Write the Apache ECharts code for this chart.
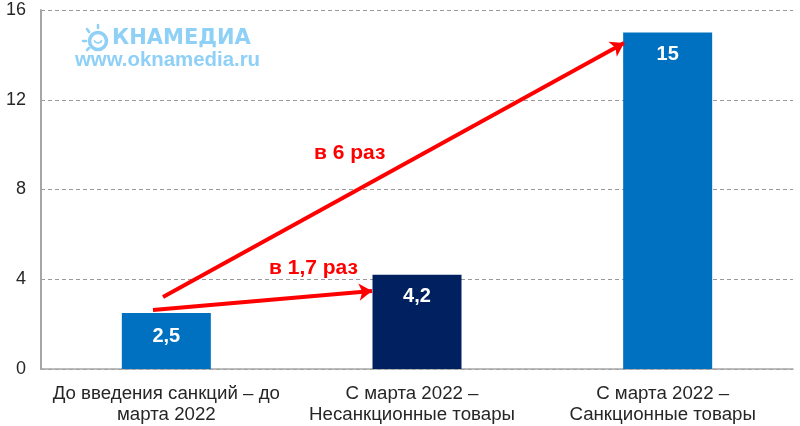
<!DOCTYPE html>
<html lang="ru">
<head>
<meta charset="UTF-8">
<title>Санкции</title>
<style>
html,body{margin:0;padding:0;background:#fff;}
#chart{width:800px;height:426px;}
</style>
<script src="https://cdn.jsdelivr.net/npm/echarts@6/dist/echarts.min.js"></script>
</head>
<body>
<div id="chart"></div>
<script>
var categories = ['До введения санкций – до\nмарта 2022', 'С марта 2022 –\nНесанкционные товары', 'С марта 2022 –\nСанкционные товары'];
var values = [2.5, 4.2, 15];
var ratioLabels = ['в 1,7 раз', 'в 6 раз'];
var font = '"Liberation Sans", Arial, sans-serif';
var logoColor = '#8ed0f6';

var chart = echarts.init(document.getElementById('chart'), null, {renderer: 'canvas'});

function ray(x1, y1, x2, y2) {
  return {
    type: 'line',
    shape: {x1: x1, y1: y1, x2: x2, y2: y2},
    style: {stroke: logoColor, lineWidth: 2.5, lineCap: 'round'},
    silent: true
  };
}

function arrow(x1, y1, x2, y2) {
  return [{x: x1, y: y1}, {x: x2, y: y2}];
}

chart.setOption({
  animation: false,
  backgroundColor: '#fff',
  textStyle: {fontFamily: font},
  grid: {left: 41, right: 7, top: 10, bottom: 57},
  xAxis: {
    type: 'category',
    data: categories,
    axisLine: {lineStyle: {color: '#a6a6a6', width: 1.5}},
    axisTick: {show: false},
    axisLabel: {
      color: '#262626', fontSize: 18.7, lineHeight: 21, margin: 14, fontFamily: font, interval: 0,
      // the 2nd and 3rd captions sit a little left of their bars
      formatter: function (v, i) {
        if (!i) return v;
        return v.split('\n').map(function (l) { return '{s|' + l + '}'; }).join('\n');
      },
      rich: {s: {color: '#262626', fontSize: 18.7, lineHeight: 21, fontFamily: font, padding: [0, 10, 0, 0]}}
    }
  },
  yAxis: {
    type: 'value',
    min: 0,
    max: 16,
    interval: 4,
    axisLine: {show: true, lineStyle: {color: '#a6a6a6', width: 2}},
    axisTick: {show: false},
    axisLabel: {color: '#262626', fontSize: 18, margin: 15, padding: [4, 0, 0, 0], fontFamily: font},
    splitLine: {lineStyle: {color: '#9a9a9a', type: [4, 3], width: 1}}
  },
  series: [{
    type: 'bar',
    barWidth: 89,
    data: values.map(function (v, i) {
      return {
        value: v,
        itemStyle: {color: i === 1 ? '#002060' : '#0070c0'},
        label: {distance: i === 0 ? 14 : 12}
      };
    }),
    label: {
      show: true,
      position: 'insideTop',
      color: '#fff',
      fontSize: 20,
      fontWeight: 'bold',
      fontFamily: font,
      formatter: function (p) { return String(p.value).replace('.', ','); }
    },
    markLine: {
      silent: true,
      animation: false,
      symbol: ['none', 'arrow'],
      symbolSize: 13,
      label: {show: false},
      lineStyle: {color: '#ff0000', width: 4, type: 'solid'},
      data: [arrow(153, 310, 372, 291), arrow(163, 297, 624, 43)]
    }
  }],
  graphic: [
    {type: 'text', x: 269, y: 258, silent: true, z: 20,
      style: {text: ratioLabels[0], fill: '#ff0000', font: 'bold 21px ' + font}},
    {type: 'text', x: 314, y: 143, silent: true, z: 20,
      style: {text: ratioLabels[1], fill: '#ff0000', font: 'bold 21px ' + font}},
    {type: 'circle', shape: {cx: 98, cy: 41, r: 8.5}, silent: true,
      style: {fill: 'none', stroke: logoColor, lineWidth: 3.5}},
    {type: 'arc', shape: {cx: 98, cy: 39, r: 4, startAngle: 0.3, endAngle: 2.84}, silent: true,
      style: {fill: 'none', stroke: logoColor, lineWidth: 1.5}},
    ray(98, 25, 98, 28),
    ray(87, 29, 89, 32),
    ray(83, 41, 86, 41),
    ray(87, 50, 89, 48),
    {type: 'text', x: 112, y: 28, silent: true,
      style: {text: 'КНАМЕДИА', fill: logoColor, font: 'bold 21px "DejaVu Sans", sans-serif'}},
    {type: 'text', x: 75, y: 50, silent: true,
      style: {text: 'www.oknamedia.ru', fill: logoColor, font: 'bold 20.4px ' + font}}
  ]
});
</script>
</body>
</html>
